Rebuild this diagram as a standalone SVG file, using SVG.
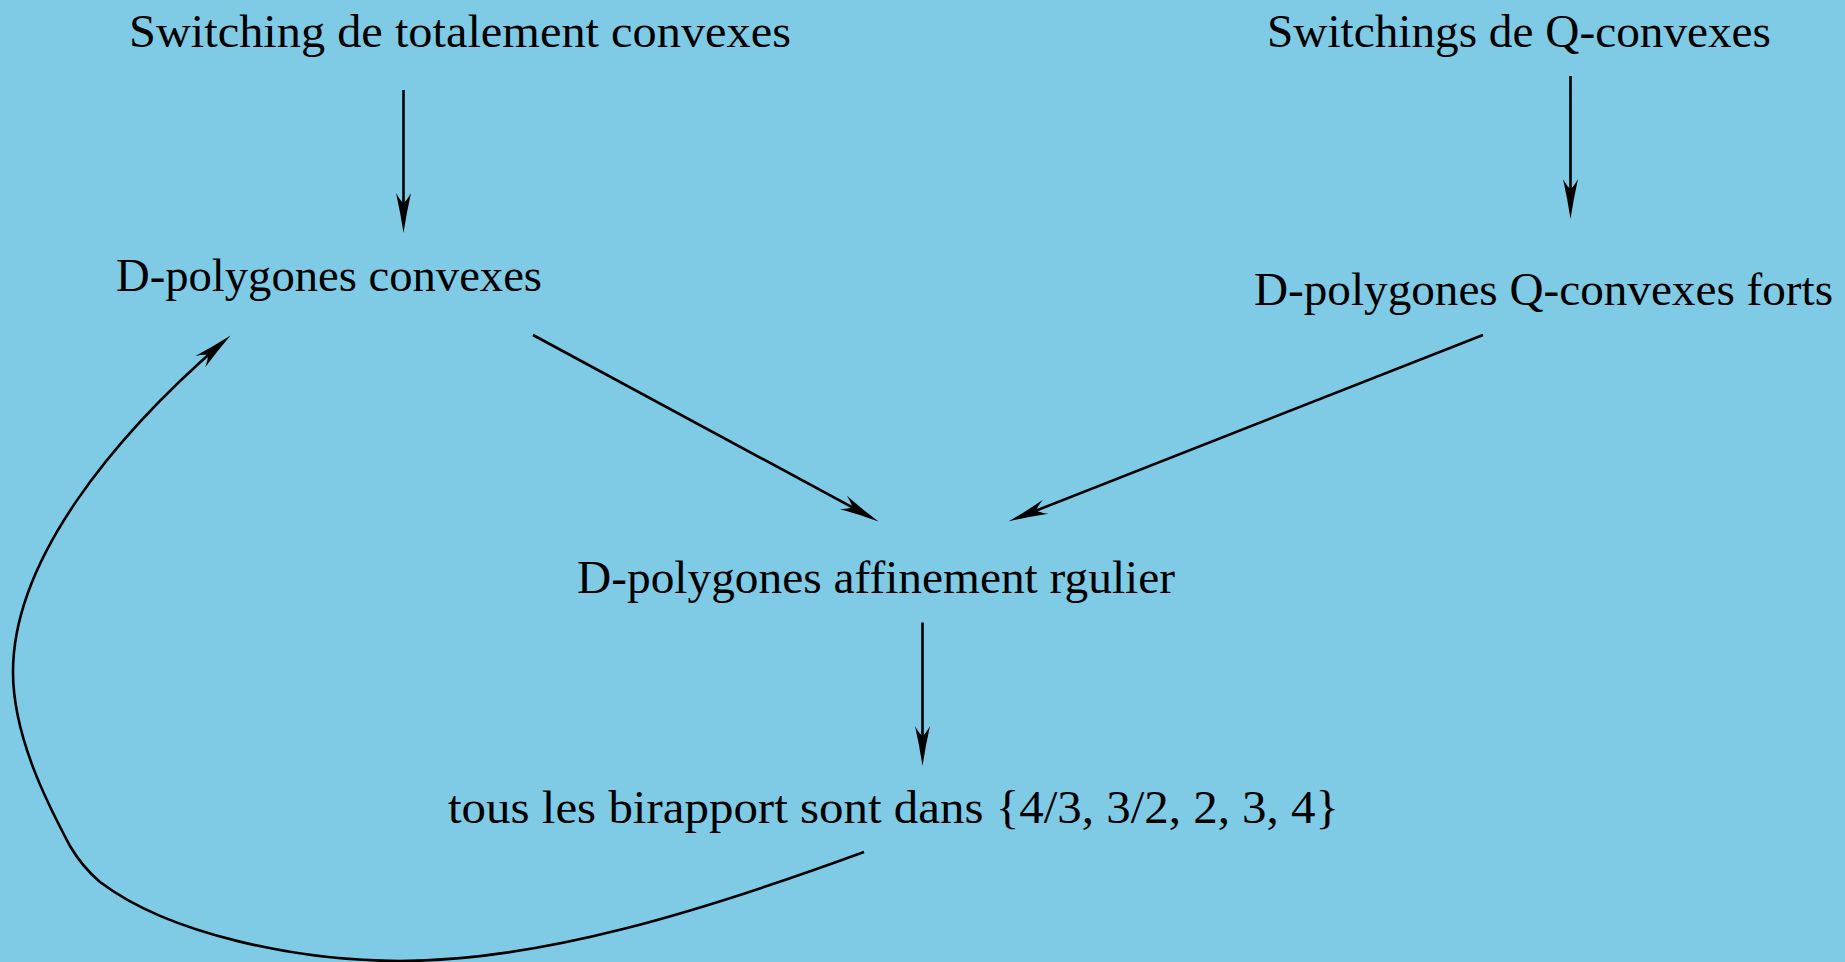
<svg xmlns="http://www.w3.org/2000/svg" width="1845" height="962" viewBox="0 0 1845 962">
<style>
text.lbl{font-family:'Liberation Serif','Times New Roman',serif;font-size:46px;fill:#000}
.edge{fill:none;stroke:#000;stroke-width:2.6;marker-end:url(#ah)}
</style>
<defs>
<marker id="ah" markerUnits="userSpaceOnUse" viewBox="-45 -10 50 20" markerWidth="50" markerHeight="20" refX="-10" refY="0" orient="auto">
<path d="M0,0 Q-20,-3 -40,-7.5 Q-32,-3 -30,0 Q-32,3 -40,7.5 Q-20,3 0,0 Z" fill="#000"/>
</marker>
</defs>
<rect x="0" y="0" width="1845" height="962" fill="#7fcbe5"/>
<g id="n1"><text class="lbl" font-family="Liberation Serif, serif" x="129" y="47" textLength="662" lengthAdjust="spacingAndGlyphs">Switching de totalement convexes</text></g>
<g id="n2"><text class="lbl" font-family="Liberation Serif, serif" x="1267" y="47" textLength="504" lengthAdjust="spacingAndGlyphs">Switchings de Q-convexes</text></g>
<g id="n3"><text class="lbl" font-family="Liberation Serif, serif" x="116" y="291" textLength="426" lengthAdjust="spacingAndGlyphs">D-polygones convexes</text></g>
<g id="n4"><text class="lbl" font-family="Liberation Serif, serif" x="1254" y="305" textLength="579" lengthAdjust="spacingAndGlyphs">D-polygones Q-convexes forts</text></g>
<g id="n5"><text class="lbl" font-family="Liberation Serif, serif" x="577" y="593" textLength="598" lengthAdjust="spacingAndGlyphs">D-polygones affinement rgulier</text></g>
<g id="n6"><text class="lbl" font-family="Liberation Serif, serif" x="448" y="823" textLength="891" lengthAdjust="spacingAndGlyphs">tous les birapport sont dans {4/3, 3/2, 2, 3, 4}</text></g>
<g id="connectors">
<path class="edge" d="M403.5,90 L403.5,223"/>
<path class="edge" d="M1570.5,76 L1570.5,209"/>
<path class="edge" d="M533,335 L869.7,516.7"/>
<path class="edge" d="M1483,335 L1017.8,517.8"/>
<path class="edge" d="M922.5,622.5 L922.5,756"/>
<path class="edge" d="M864,852 C700,912 540,961 400,961 C300,961 170,935 100,882 C86,870 77,858 70,846 C52,812 13,740 13,672 C13,560 113,437 223,342"/>
</g>
</svg>
